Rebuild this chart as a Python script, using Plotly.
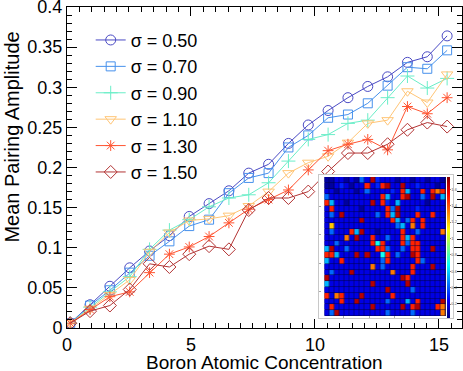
import plotly.graph_objects as go

# concentrations (x) and mean pairing amplitude per sigma
conc = [0.13, 0.93, 1.73, 2.53, 3.33, 4.13, 4.93, 5.73, 6.53, 7.33,
        8.13, 8.93, 9.73, 10.53, 11.33, 12.13, 12.93, 13.73, 14.53, 15.33]

amp_050 = [0.006, 0.029, 0.052, 0.075, 0.096, 0.115, 0.139, 0.155, 0.171, 0.193,
           0.204, 0.230, 0.253, 0.271, 0.287, 0.301, 0.313, 0.331, 0.338, 0.364]
amp_070 = [0.006, 0.028, 0.047, 0.069, 0.090, 0.108, 0.127, 0.135, 0.168, 0.187,
           0.193, 0.225, 0.240, 0.262, 0.266, 0.280, 0.302, 0.325, 0.323, 0.346]
amp_090 = [0.006, 0.026, 0.045, 0.064, 0.098, 0.122, 0.135, 0.151, 0.162, 0.166,
           0.181, 0.208, 0.235, 0.241, 0.255, 0.259, 0.287, 0.314, 0.299, 0.311]
amp_110 = [0.006, 0.024, 0.041, 0.060, 0.095, 0.119, 0.134, 0.136, 0.140, 0.152,
           0.170, 0.193, 0.206, 0.214, 0.231, 0.255, 0.259, 0.295, 0.281, 0.316]
amp_130 = [0.006, 0.023, 0.039, 0.045, 0.069, 0.092, 0.101, 0.114, 0.131, 0.148,
           0.160, 0.172, 0.197, 0.221, 0.229, 0.235, 0.222, 0.276, 0.267, 0.287]
amp_150 = [0.006, 0.021, 0.028, 0.048, 0.080, 0.076, 0.092, 0.102, 0.098, 0.147,
           0.162, 0.162, 0.170, 0.195, 0.218, 0.218, 0.229, 0.247, 0.256, 0.251]

names = ['σ = 0.50', 'σ = 0.70', 'σ = 0.90', 'σ = 1.10', 'σ = 1.30', 'σ = 1.50']
series = [amp_050, amp_070, amp_090, amp_110, amp_130, amp_150]
colors = ['#4a4ac4', '#4791ec', '#6aeec8', '#ffc576', '#ff5532', '#b33434']
symbols = ['circle-open', 'square-open', 'cross-thin-open', 'triangle-down-open',
           'asterisk-open', 'diamond-open']
msizes = [10, 9, 10, 10, 9, 10]

# inset map: 24x24 cells, coded by colour level
cell_levels = {'a': 0.08, 'b': 0.2, 'c': 0.3, 'd': 0.42, 'e': 0.55, 'f': 0.7,
               'y': 1.2, 'o': 1.33, 'r': 1.48, 'k': 1.66}
cell_rows = [
    'aabbabadbkcbbbabbabbabba',
    'aabcbabbrbcrkbbkbbcbbbab',
    'bbabbbabdbbbbcbrebbrbror',
    'dbbbbbbbbbbrebbrkbbdbkbe',
    'rebbabbbbkbrcbebbbbbabbb',
    'brbbbbbabbbbrdkbbbcbbbbb',
    'bdbkbbbbbbdbrekbbbrbbrbb',
    'bbbbbbbkbbbbbrebdrbrbbbb',
    'bybbbbbbbbbbbbdebobrbbbb',
    'bdbbbrekbbabbbbrbbdbbbbo',
    'bbbbobkbbrbbdbbrerbbbbbb',
    'bbdbbbbbbrfrbbbrdrrbbbbb',
    'ekbbdbbbbbrrdbbdbrrbbkbb',
    'rrebbbkbkbbfrbdbbkrbbbbb',
    'ebbrbbbbbbbdrbbbbbrdbbbb',
    'bbbbbbbbbobdbbbbbrbbbkbb',
    'bdbbbkbbbbbbbobbbrbbbbbb',
    'kbbbbbbbbbbbbbbkrbbbbbbb',
    'ebbbbbbbbkbbbbbbkbbbbbbb',
    'bbbbbbbbbbbbkbbbbdbbbbbb',
    'rborbbbkbbbbbrbbbbbbbbbb',
    'bbbrbbkbbbbbdbbbebrbbbbk',
    'brbbbbbbbkbbbbbkbrkbbbro',
    'bdkbbbbbbbbbdbbbbdbbbbbo',
]
cell_z = [[cell_levels[ch] for ch in row] for row in cell_rows]

jet = [[0.0, '#000080'], [0.125, '#0000ff'], [0.375, '#00ffff'],
       [0.625, '#ffff00'], [0.875, '#ff0000'], [1.0, '#800000']]

fig = go.Figure()

for name, vals, col, sym, ms in zip(names, series, colors, symbols, msizes):
    fig.add_trace(go.Scatter(
        x=conc, y=vals, mode='lines+markers', name=name,
        line=dict(color=col, width=1),
        marker=dict(symbol=sym, size=ms, color=col, line=dict(color=col, width=1)),
    ))

fig.add_trace(go.Heatmap(
    z=cell_z, xaxis='x2', yaxis='y2', colorscale=jet, zmin=0.03, zmax=1.75,
    xgap=0.5, ygap=0.5, showlegend=False,
    colorbar=dict(x=0.962, xanchor='left', y=0.2508, yanchor='middle',
                  thickness=3, len=141, lenmode='pixels', xpad=0, ypad=0,
                  outlinewidth=0, ticks='outside', ticklen=1, tickcolor='#888',
                  tickvals=[0.2, 0.4, 0.6, 0.8, 1.0, 1.2, 1.4, 1.6],
                  ticktext=['0.2', '0.4', '0.6', '0.8', '1', '1.2', '1.4', '1.6'],
                  tickfont=dict(size=4, color='#555')),
))

# dark cell edges behind the map
fig.add_shape(type='rect', xref='x2', yref='y2', x0=-0.5, x1=23.5, y0=-0.5, y1=23.5,
              fillcolor='#000040', line=dict(width=0), layer='below')

# axis titles placed as annotations
fig.add_annotation(text='Boron Atomic Concentration', xref='paper', yref='paper',
                   x=0.5, y=-0.109, yanchor='middle', showarrow=False,
                   font=dict(size=19))
fig.add_annotation(text='Mean Pairing Amplitude', xref='paper', yref='paper',
                   x=-0.139, y=0.5935, xanchor='center', yanchor='middle',
                   textangle=-90, showarrow=False, font=dict(size=20))

font = 'Liberation Sans, Arial, sans-serif'
fig.update_layout(
    width=463, height=371,
    margin=dict(l=67, r=1, t=7, b=43, autoexpand=False),
    paper_bgcolor='white', plot_bgcolor='white',
    font=dict(family=font, size=18, color='black'),
    showlegend=True,
    legend=dict(x=0.06, y=0.954, xanchor='left', yanchor='top',
                bgcolor='rgba(0,0,0,0)', font=dict(size=18)),
    xaxis=dict(range=[0, 15.93], tickvals=[0, 5, 10, 15], ticktext=['0', '5', '10', '15'],
               ticks='inside', ticklen=9, tickcolor='black', mirror='allticks',
               showline=True, linecolor='black', linewidth=1, showgrid=False,
               zeroline=False, automargin=False, ticklabeloverflow='allow',
               minor=dict(dtick=0.5, ticks='inside', ticklen=5, tickcolor='black')),
    yaxis=dict(range=[0, 0.4],
               tickvals=[0, 0.05, 0.1, 0.15, 0.2, 0.25, 0.3, 0.35, 0.4],
               ticktext=['0', '0.05', '0.1', '0.15', '0.2', '0.25', '0.3', '0.35', '0.4'],
               ticks='inside', ticklen=10, tickcolor='black', mirror='allticks',
               showline=True, linecolor='black', linewidth=1, showgrid=False,
               zeroline=False, automargin=False, ticklabeloverflow='allow',
               minor=dict(dtick=0.01, ticks='inside', ticklen=5, tickcolor='black')),
    xaxis2=dict(domain=[0.638, 0.977], anchor='y2', range=[-1.586, 24.883],
                showgrid=False, zeroline=False, showline=True, mirror=True,
                linecolor='#c8c8c8', linewidth=1, ticks='inside', ticklen=2,
                tickcolor='#aaa', tickvals=[3.2, 8.3, 13.3, 18.3], showticklabels=False,
                automargin=False),
    yaxis2=dict(domain=[0.0312, 0.4766], anchor='x2', range=[23.845, -0.845],
                showgrid=False, zeroline=False, showline=True, mirror=True,
                linecolor='#c8c8c8', linewidth=1, ticks='inside', ticklen=2,
                tickcolor='#aaa', tickvals=[4.6, 9.5, 14.4, 19.3], showticklabels=False,
                automargin=False),
)

# drop the browser's default page margin so the figure sits at the window origin
fig.write_html('out.html', config={'displayModeBar': False},
               post_script="document.body.style.margin='0px';")
